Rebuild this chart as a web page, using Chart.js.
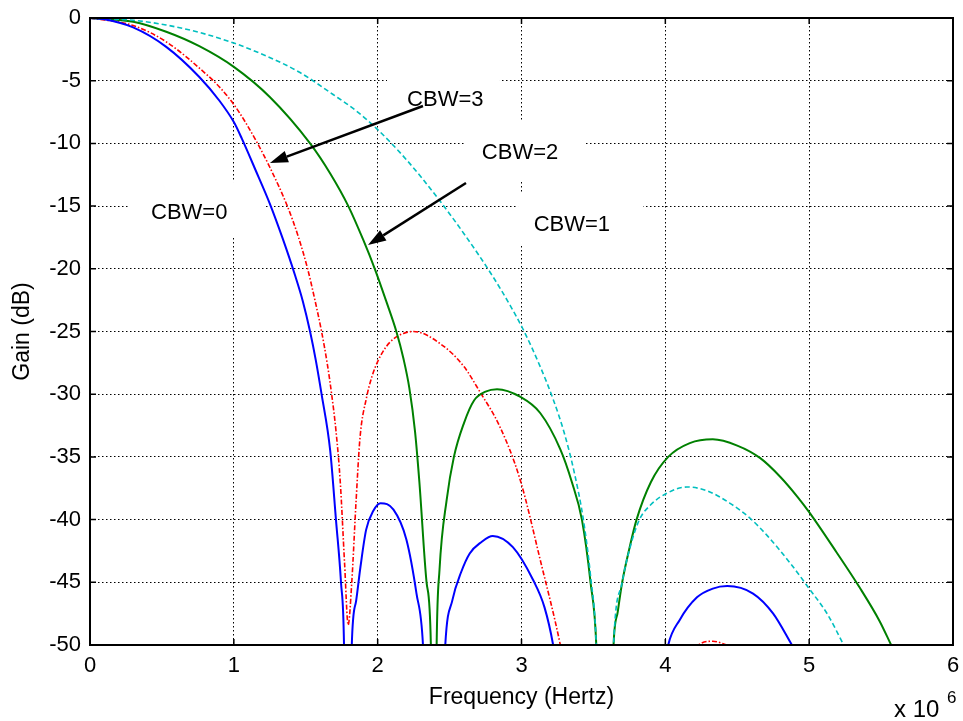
<!DOCTYPE html>
<html>
<head>
<meta charset="utf-8">
<script src="https://cdn.jsdelivr.net/npm/chart.js@4.4.1/dist/chart.umd.min.js"></script>
<style>
  html, body { margin: 0; padding: 0; background: #fff; }
  #wrap { width: 963px; height: 721px; }
</style>
</head>
<body>
<div id="wrap"><canvas id="gain"></canvas></div>
<script>
// frequency in units of 1e6 Hz, gain in dB (values below -50 fall outside the axes)
const cbw0Freq = [0, 0.1, 0.3, 0.53, 0.76, 0.9, 1.0, 1.055, 1.15, 1.25, 1.34, 1.425, 1.48, 1.53, 1.57, 1.61, 1.67, 1.71, 1.745, 1.766, 1.79, 1.82, 1.85, 1.88, 1.92, 1.97, 2.02, 2.11, 2.2, 2.27, 2.315, 2.39, 2.47, 2.52, 2.58, 2.64, 2.72, 2.8, 2.94, 3.08, 3.16, 3.22, 3.6, 4.02, 4.1, 4.22, 4.33, 4.43, 4.61, 4.75, 4.88]
const cbw0Gain = [0, -0.1, -0.75, -2.3, -4.7, -6.6, -8.3, -9.6, -12.1, -14.8, -17.6, -20.5, -22.6, -25, -27.3, -30, -34.5, -40, -45, -50, -75, -50, -46.5, -43.8, -40.8, -39.3, -38.7, -39.2, -41.6, -45.9, -50, -75, -50, -46.4, -44.2, -42.7, -41.8, -41.3, -42.2, -44.8, -47, -50, -80, -50, -48, -46.2, -45.5, -45.3, -45.9, -47.5, -50]

const cbw1Freq = [0, 0.3, 0.53, 0.76, 1.0, 1.23, 1.46, 1.69, 1.85, 2.0, 2.2, 2.4, 2.6, 2.8, 2.92, 3.01, 3.13, 3.22, 3.3, 3.37, 3.43, 3.48, 3.52, 3.58, 3.64, 3.70, 3.76, 3.82, 3.9, 4.01, 4.15, 4.29, 4.45, 4.59, 4.71, 4.87, 5.0, 5.13, 5.24]
const cbw1Gain = [0, -0.18, -0.56, -1.15, -2.0, -3.05, -4.35, -6.1, -7.4, -8.9, -11.3, -14.1, -17.2, -20.6, -22.9, -24.8, -27.8, -30.4, -33.2, -36.4, -40, -44.5, -50, -75, -50, -45, -42, -40, -38.8, -37.9, -37.4, -37.7, -38.7, -39.9, -41.3, -43.5, -45.5, -47.6, -50]

const cbw2Freq = [0, 0.3, 0.53, 0.76, 1.0, 1.25, 1.53, 1.67, 1.796, 1.9, 1.98, 2.06, 2.13, 2.18, 2.22, 2.26, 2.29, 2.34, 2.37, 2.39, 2.41, 2.43, 2.48, 2.53, 2.6, 2.67, 2.75, 2.83, 2.99, 3.13, 3.27, 3.35, 3.42, 3.48, 3.52, 3.58, 3.64, 3.67, 3.70, 3.75, 3.80, 3.90, 4.02, 4.17, 4.33, 4.5, 4.66, 4.8, 4.92, 5.0, 5.19, 5.35, 5.49, 5.57]
const cbw2Gain = [0, -0.3, -1.1, -2.25, -3.9, -6.3, -10, -12.4, -15, -17.7, -20, -22.6, -25, -27.2, -29.5, -33, -37, -45, -50, -75, -50, -44, -38.4, -35, -32.3, -30.5, -29.8, -29.6, -30.2, -31.5, -34.4, -37, -40, -45, -50, -75, -50, -47.3, -45, -42.3, -40, -37, -35, -33.9, -33.6, -34.1, -35.1, -36.6, -38.2, -39.4, -42.6, -45.4, -48.1, -50]

const cbw3Freq = [0, 0.3, 0.53, 0.81, 0.9, 1.0, 1.08, 1.16, 1.25, 1.372, 1.45, 1.513, 1.56, 1.61, 1.65, 1.68, 1.71, 1.74, 1.77, 1.795, 1.82, 1.85, 1.877, 1.924, 1.96, 2.0, 2.06, 2.11, 2.18, 2.25, 2.45, 2.6, 2.71, 2.85, 2.99, 3.13, 3.27, 3.75, 4.23, 4.33, 4.43]
const cbw3Gain = [0, -0.6, -1.9, -4.5, -5.5, -6.9, -8.3, -9.9, -11.9, -15, -17.5, -20, -22.3, -25, -27.6, -30, -32.9, -37, -43.5, -48.4, -45, -38.5, -33.5, -30.2, -28.6, -27.4, -26.2, -25.6, -25.15, -25.0, -26.1, -27.8, -29.8, -32.6, -36.8, -43.2, -50, -80, -50, -49.7, -50]

const xTicks = [0, 1, 2, 3, 4, 5, 6]
const yTicks = [0, -5, -10, -15, -20, -25, -30, -35, -40, -45, -50]

// annotation text and the arrows that tie two of them to their curves
const noteTexts = ["CBW=0", "CBW=1", "CBW=2", "CBW=3"]
const noteAt = [[0.69, -15.55], [3.35, -16.5], [2.99, -10.8], [2.47, -6.54]]
const noteBox = [[0.278, 1.217, -13.08, -17.54], [2.976, 3.845, -13.96, -18.1], [2.607, 3.441, -8.29, -13.08], [2.065, 2.85, -3.75, -8.93]]
const arrows = [[2.315, -7.02, 1.251, -11.56], [2.614, -13.16, 1.933, -18.1]]

const FONT = "'Liberation Sans', Arial, sans-serif"
Chart.defaults.font.family = FONT
Chart.defaults.color = "#000"

const pts = (xs, ys) => xs.map((x, i) => ({ x, y: ys[i] }))

function series(label, xs, ys, color, dash, width) {
  return {
    label, data: pts(xs, ys), borderColor: color, backgroundColor: color,
    borderWidth: width, borderDash: dash, pointRadius: 0, fill: false,
    cubicInterpolationMode: "monotone"
  }
}

const decor = {
  id: "decor",
  beforeDatasetsDraw(chart) {
    const { ctx, scales: { x, y } } = chart
    ctx.save()
    ctx.fillStyle = "#fff"
    noteBox.forEach(([x0, x1, y0, y1]) => {
      const l = x.getPixelForValue(x0), r = x.getPixelForValue(x1)
      const t = y.getPixelForValue(y0), b = y.getPixelForValue(y1)
      ctx.fillRect(l, t, r - l, b - t)
    })
    ctx.fillStyle = "#000"
    ctx.font = `22px ${FONT}`
    ctx.textAlign = "center"
    ctx.textBaseline = "middle"
    noteTexts.forEach((s, i) => ctx.fillText(s, x.getPixelForValue(noteAt[i][0]), y.getPixelForValue(noteAt[i][1])))
    ctx.restore()
  },
  afterDatasetsDraw(chart) {
    const { ctx, chartArea: a, scales: { x, y } } = chart
    ctx.save()
    // arrows
    ctx.strokeStyle = "#000"
    ctx.fillStyle = "#000"
    ctx.lineWidth = 2.5
    arrows.forEach(([fx, fy, tx, ty]) => {
      const x0 = x.getPixelForValue(fx), y0 = y.getPixelForValue(fy)
      const x1 = x.getPixelForValue(tx), y1 = y.getPixelForValue(ty)
      const ang = Math.atan2(y1 - y0, x1 - x0)
      const len = 18, half = 6
      const bx = x1 - len * Math.cos(ang), by = y1 - len * Math.sin(ang)
      ctx.beginPath(); ctx.moveTo(x0, y0); ctx.lineTo(bx, by); ctx.stroke()
      ctx.beginPath()
      ctx.moveTo(x1, y1)
      ctx.lineTo(bx + half * Math.sin(ang), by - half * Math.cos(ang))
      ctx.lineTo(bx - half * Math.sin(ang), by + half * Math.cos(ang))
      ctx.closePath(); ctx.fill()
    })
    // axes box with inward ticks
    ctx.lineWidth = 2
    ctx.strokeRect(a.left, a.top, a.right - a.left, a.bottom - a.top)
    ctx.lineWidth = 1.5
    ctx.beginPath()
    xTicks.forEach(v => {
      const p = x.getPixelForValue(v)
      ctx.moveTo(p, a.bottom); ctx.lineTo(p, a.bottom - 6)
      ctx.moveTo(p, a.top); ctx.lineTo(p, a.top + 6)
    })
    yTicks.forEach(v => {
      const p = y.getPixelForValue(v)
      ctx.moveTo(a.left, p); ctx.lineTo(a.left + 6, p)
      ctx.moveTo(a.right, p); ctx.lineTo(a.right - 6, p)
    })
    ctx.stroke()
    ctx.restore()
  },
  afterDraw(chart) {
    const { ctx } = chart
    ctx.save()
    ctx.fillStyle = "#000"
    ctx.textBaseline = "alphabetic"
    ctx.textAlign = "left"
    ctx.font = `24px ${FONT}`
    ctx.fillText("x 10", 894, 717)
    ctx.font = `17px ${FONT}`
    ctx.fillText("6", 947, 703)
    ctx.restore()
  }
}

new Chart(document.getElementById("gain"), {
  type: "line",
  data: {
    datasets: [
      series("CBW=0", cbw0Freq, cbw0Gain, "#0000ff", [], 2),
      series("CBW=1", cbw1Freq, cbw1Gain, "#00bfbf", [5, 3], 1.6),
      series("CBW=2", cbw2Freq, cbw2Gain, "#008000", [], 2),
      series("CBW=3", cbw3Freq, cbw3Gain, "#ff0000", [5, 2, 1.5, 2], 1.6)
    ]
  },
  options: {
    responsive: true, maintainAspectRatio: false, animation: false,
    layout: { padding: { top: 18, right: 10, left: 0, bottom: 0 } },
    plugins: { legend: { display: false }, tooltip: { enabled: false } },
    scales: {
      x: {
        type: "linear", min: 0, max: 6,
        afterFit: s => { s.height = 76; s.paddingLeft = 0; s.paddingRight = 0 },
        afterBuildTicks: s => { s.ticks = xTicks.map(value => ({ value })) },
        ticks: { padding: 8, font: { size: 22 } },
        grid: { color: "#000", lineWidth: 1, drawTicks: false },
        border: { display: false, dash: [1.5, 2.5] },
        title: { display: true, text: "Frequency (Hertz)", font: { size: 23 }, padding: { bottom: 10 } }
      },
      y: {
        type: "linear", min: -50, max: 0,
        afterFit: s => { s.width = 90; s.paddingTop = 0; s.paddingBottom = 0 },
        afterBuildTicks: s => { s.ticks = yTicks.map(value => ({ value })) },
        ticks: { padding: 9, font: { size: 22 } },
        grid: { color: "#000", lineWidth: 1, drawTicks: false },
        border: { display: false, dash: [1.5, 2.5] },
        title: { display: true, text: "Gain (dB)", font: { size: 23 }, padding: { top: 9 } }
      }
    }
  },
  plugins: [decor]
})
</script>
</body>
</html>
